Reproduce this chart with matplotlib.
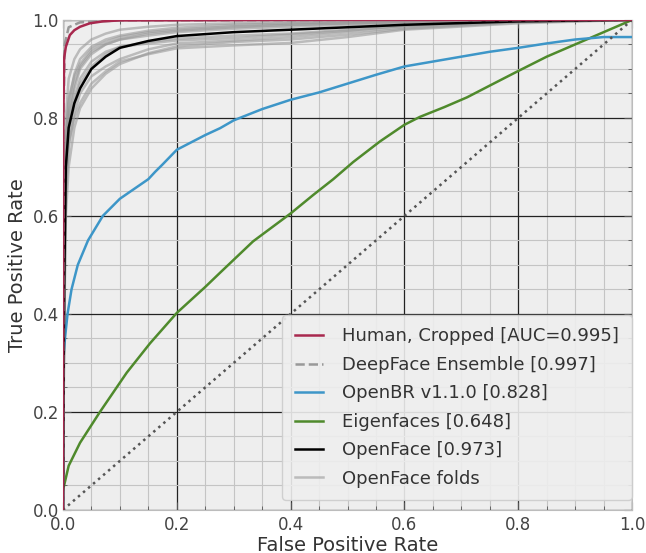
import matplotlib
matplotlib.use("Agg")
import matplotlib.pyplot as plt
from matplotlib.ticker import MultipleLocator

# ---- data ----
human_fpr = [0, 0.0003, 0.0006, 0.002, 0.005, 0.012, 0.02, 0.03, 0.047, 0.07, 0.1, 0.4, 1.0]
human_tpr = [0, 0.5, 0.80, 0.922, 0.945, 0.969, 0.979, 0.986, 0.993, 0.997, 0.999, 1.0, 1.0]

deepface_fpr = [0, 0.001, 0.003, 0.01, 0.03, 0.1, 1.0]
deepface_tpr = [0, 0.8, 0.95, 0.985, 0.995, 0.999, 1.0]

openbr_fpr = [0, 0, 0.0035, 0.008, 0.015, 0.026, 0.044, 0.07, 0.1, 0.15, 0.162, 0.175, 0.2, 0.25, 0.276,
              0.3, 0.35, 0.4, 0.45, 0.5, 0.55, 0.6, 0.65, 0.7, 0.75, 0.8, 0.85, 0.9, 0.95, 1.0]
openbr_tpr = [0, 0.3, 0.35, 0.40, 0.45, 0.50, 0.55, 0.60, 0.635, 0.675, 0.69, 0.705, 0.735, 0.765, 0.779,
              0.795, 0.818, 0.837, 0.852, 0.87, 0.888, 0.905, 0.915, 0.925, 0.935, 0.943, 0.952, 0.96, 0.965, 0.965]

eigen_fpr = [0, 0.01, 0.03, 0.065, 0.112, 0.153, 0.2, 0.25, 0.276, 0.334, 0.4, 0.44, 0.475, 0.51,
             0.557, 0.6, 0.627, 0.67, 0.71, 0.75, 0.797, 0.85, 0.9, 0.95, 1.0]
eigen_tpr = [0.04, 0.09, 0.137, 0.2, 0.28, 0.34, 0.402, 0.455, 0.484, 0.548, 0.605, 0.643, 0.675, 0.71,
             0.752, 0.786, 0.802, 0.822, 0.842, 0.866, 0.894, 0.925, 0.95, 0.975, 1.0]

fold_fpr = [0, 0.002, 0.005, 0.01, 0.02, 0.03, 0.05, 0.075, 0.1, 0.15, 0.2, 0.3, 0.4, 0.5, 0.6, 0.8, 1.0]
openface_tpr = [0, 0.45, 0.70, 0.78, 0.83, 0.86, 0.90, 0.925, 0.943, 0.957, 0.967, 0.975, 0.98, 0.985, 0.99, 0.997, 1.0]
folds_tpr = [
    [0, 0.50, 0.75, 0.83, 0.89, 0.92, 0.945, 0.96, 0.968, 0.978, 0.984, 0.99, 0.993, 0.995, 0.997, 0.999, 1],
    [0, 0.40, 0.66, 0.75, 0.80, 0.83, 0.87, 0.895, 0.915, 0.93, 0.942, 0.948, 0.953, 0.965, 0.98, 0.993, 1],
    [0, 0.45, 0.72, 0.80, 0.86, 0.90, 0.93, 0.95, 0.96, 0.968, 0.975, 0.982, 0.986, 0.99, 0.993, 0.998, 1],
    [0, 0.35, 0.60, 0.70, 0.78, 0.82, 0.86, 0.89, 0.91, 0.932, 0.946, 0.955, 0.96, 0.97, 0.982, 0.995, 1],
    [0, 0.55, 0.80, 0.88, 0.92, 0.94, 0.96, 0.972, 0.98, 0.986, 0.99, 0.993, 0.995, 0.997, 0.998, 0.999, 1],
    [0, 0.42, 0.68, 0.77, 0.83, 0.87, 0.905, 0.93, 0.945, 0.955, 0.962, 0.968, 0.972, 0.98, 0.988, 0.997, 1],
    [0, 0.38, 0.64, 0.74, 0.81, 0.85, 0.885, 0.905, 0.92, 0.94, 0.952, 0.958, 0.965, 0.975, 0.985, 0.996, 1],
    [0, 0.48, 0.73, 0.81, 0.87, 0.905, 0.935, 0.95, 0.96, 0.972, 0.978, 0.985, 0.99, 0.993, 0.995, 0.998, 1],
    [0, 0.44, 0.70, 0.79, 0.84, 0.88, 0.915, 0.935, 0.945, 0.952, 0.958, 0.963, 0.97, 0.978, 0.988, 0.997, 1],
    [0, 0.52, 0.76, 0.84, 0.885, 0.91, 0.94, 0.955, 0.965, 0.975, 0.98, 0.987, 0.99, 0.993, 0.996, 0.998, 1],
]

labels = ["Human, Cropped [AUC=0.995]", "DeepFace Ensemble [0.997]", "OpenBR v1.1.0 [0.828]",
          "Eigenfaces [0.648]", "OpenFace [0.973]", "OpenFace folds"]
ticks = [0.0, 0.2, 0.4, 0.6, 0.8, 1.0]

# ---- figure ----
fig = plt.figure(figsize=(6.46, 5.53), dpi=100)
ax = fig.add_axes([0.0975, 0.078, 0.881, 0.886])
ax.set_facecolor("#eeeeee")

handles = {}
for i, f in enumerate(folds_tpr):
    ln, = ax.plot(fold_fpr, f, color="#999999", alpha=0.6, lw=1.8, zorder=2)
    if i == 0:
        handles[labels[5]] = ln
handles[labels[3]], = ax.plot(eigen_fpr, eigen_tpr, color="#4f8a2c", lw=1.8, zorder=3)
handles[labels[2]], = ax.plot(openbr_fpr, openbr_tpr, color="#3d96c8", lw=1.8, zorder=3)
handles[labels[4]], = ax.plot(fold_fpr, openface_tpr, color="black", lw=1.8, zorder=4)
handles[labels[1]], = ax.plot(deepface_fpr, deepface_tpr, color="#999999", lw=1.8, ls="--", zorder=4)
handles[labels[0]], = ax.plot(human_fpr, human_tpr, color="#a8284e", lw=1.8, zorder=5)
ax.plot([0, 1], [0, 1], color="#555555", ls=":", lw=1.8, zorder=3)

ax.set_xlim(0, 1)
ax.set_ylim(0, 1)
ax.set_xticks(ticks)
ax.set_yticks(ticks)
ax.set_xticklabels([f"{t:.1f}" for t in ticks])
ax.set_yticklabels([f"{t:.1f}" for t in ticks])
ax.xaxis.set_minor_locator(MultipleLocator(0.05))
ax.yaxis.set_minor_locator(MultipleLocator(0.05))
ax.grid(which="major", color="#222222", lw=0.9, zorder=1)
ax.grid(which="minor", color="#c4c4c4", lw=0.8, zorder=0)
ax.set_axisbelow(True)
ax.tick_params(which="both", direction="in", top=True, right=True, colors="#555555",
               labelcolor="#444444", labelsize=12, pad=3)
ax.tick_params(axis="x", which="major", pad=4.5)
ax.tick_params(which="major", length=6)
ax.tick_params(which="minor", length=3)
for s in ax.spines.values():
    s.set_color("#bcbcbc")

ax.set_xlabel("False Positive Rate", fontsize=14, color="#333333", labelpad=1)
ax.set_ylabel("True Positive Rate", fontsize=14, color="#333333", labelpad=4)

leg = ax.legend([handles[x] for x in labels], labels, loc="lower right",
                bbox_to_anchor=(0.999, 0.02), borderaxespad=0, fontsize=13,
                handlelength=1.6, handletextpad=1.05, labelspacing=0.58, borderpad=0.68,
                frameon=True, fancybox=True, facecolor="#eeeeee", edgecolor="#cccccc",
                framealpha=0.9)
for t in leg.get_texts():
    t.set_color("#333333")

fig.savefig("out.png", dpi=100)
